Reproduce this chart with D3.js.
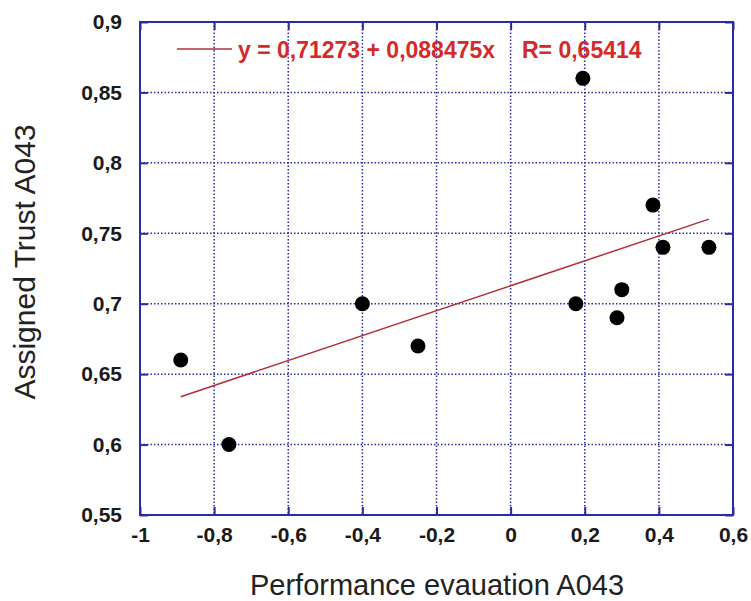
<!DOCTYPE html>
<html>
<head>
<meta charset="utf-8">
<script src="https://cdn.jsdelivr.net/npm/d3@7"></script>
<style>
  body { margin: 0; background: #fff; }
  text { font-family: Arial, "Liberation Sans", sans-serif; }
</style>
</head>
<body>
<script>
// data
var perfX = [-0.89, -0.76, -0.40, -0.25, 0.176, 0.195, 0.287, 0.30, 0.384, 0.411, 0.535];
var trustY = [0.66, 0.60, 0.70, 0.67, 0.70, 0.86, 0.69, 0.71, 0.77, 0.74, 0.74];
var xTicks = [-1, -0.8, -0.6, -0.4, -0.2, 0, 0.2, 0.4, 0.6];
var yTicks = [0.55, 0.6, 0.65, 0.7, 0.75, 0.8, 0.85, 0.9];
var fitA = 0.71273, fitB = 0.088475, fitR = 0.65414;

var W = 751, H = 601;
var margin = {top: 22, right: 18, bottom: 86, left: 140},
    width = W - margin.left - margin.right,
    height = H - margin.top - margin.bottom;

var blue = "#2b2ba6";
var fmt = d => String(d).replace(".", ",");

var svg = d3.select("body").append("svg")
    .attr("width", W)
    .attr("height", H);

var g = svg.append("g")
    .attr("transform", `translate(${margin.left},${margin.top})`);

var x = d3.scaleLinear().domain([-1, 0.6]).range([0, width]);
var y = d3.scaleLinear().domain([0.55, 0.9]).range([height, 0]);

// dotted grid
g.selectAll(".gx").data(xTicks.slice(1, -1)).enter().append("line")
    .attr("x1", d => x(d)).attr("x2", d => x(d))
    .attr("y1", 0).attr("y2", height)
    .attr("stroke", blue).attr("stroke-width", 1.5)
    .attr("stroke-dasharray", "1.5,2");
g.selectAll(".gy").data(yTicks.slice(1, -1)).enter().append("line")
    .attr("y1", d => y(d)).attr("y2", d => y(d))
    .attr("x1", 0).attr("x2", width)
    .attr("stroke", blue).attr("stroke-width", 1.5)
    .attr("stroke-dasharray", "1.5,2");

// axes with inner ticks
var tk = 8;
var axB = g.append("g").attr("transform", `translate(0,${height})`)
    .call(d3.axisBottom(x).tickValues(xTicks).tickSize(-tk).tickPadding(12).tickFormat(fmt));
var axT = g.append("g")
    .call(d3.axisTop(x).tickValues(xTicks).tickSize(-tk).tickFormat(""));
var axL = g.append("g")
    .call(d3.axisLeft(y).tickValues(yTicks).tickSize(-tk).tickPadding(18).tickFormat(fmt));
var axR = g.append("g").attr("transform", `translate(${width},0)`)
    .call(d3.axisRight(y).tickValues(yTicks).tickSize(-tk).tickFormat(""));

[axB, axT, axL, axR].forEach(a => {
  a.select(".domain").remove();
  a.selectAll(".tick line").attr("stroke", blue).attr("stroke-width", 2);
  a.selectAll("text").attr("fill", "#1a1a1a").attr("font-size", 21).attr("font-weight", "bold");
});

// frame
g.append("rect")
    .attr("width", width).attr("height", height)
    .attr("fill", "none").attr("stroke", blue).attr("stroke-width", 2);

// regression line
var xr = d3.extent(perfX);
g.append("line")
    .attr("x1", x(xr[0])).attr("y1", y(fitA + fitB * xr[0]))
    .attr("x2", x(xr[1])).attr("y2", y(fitA + fitB * xr[1]))
    .attr("stroke", "#b3303a").attr("stroke-width", 1.5);

// points
g.selectAll(".pt").data(perfX).enter().append("circle")
    .attr("cx", d => x(d))
    .attr("cy", (d, i) => y(trustY[i]))
    .attr("r", 7.5)
    .attr("fill", "#000");

// legend
g.append("line")
    .attr("x1", 37).attr("x2", 92).attr("y1", 27).attr("y2", 27)
    .attr("stroke", "#b3303a").attr("stroke-width", 1.5);
g.append("text")
    .attr("x", 98).attr("y", 36)
    .attr("fill", "#d42a2a").attr("font-size", 23).attr("font-weight", "bold")
    .text("y = " + fmt(fitA) + " + " + fmt(fitB) + "x");
g.append("text")
    .attr("x", 382).attr("y", 36)
    .attr("fill", "#d42a2a").attr("font-size", 23).attr("font-weight", "bold")
    .text("R= " + fmt(fitR));

// axis titles
svg.append("text")
    .attr("x", 437).attr("y", 595)
    .attr("text-anchor", "middle").attr("font-size", 29).attr("fill", "#222")
    .text("Performance evauation A043");
svg.append("text")
    .attr("transform", "translate(35,262) rotate(-90)")
    .attr("text-anchor", "middle").attr("font-size", 30).attr("fill", "#222")
    .text("Assigned Trust A043");
</script>
</body>
</html>
